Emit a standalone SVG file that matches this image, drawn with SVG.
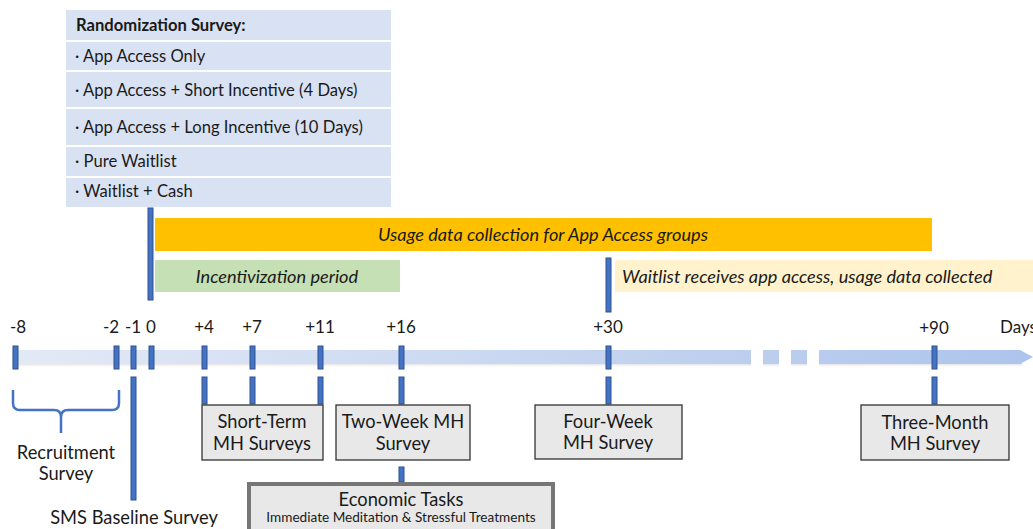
<svg xmlns="http://www.w3.org/2000/svg" width="1033" height="529" viewBox="0 0 1033 529">
<defs>
<linearGradient id="tl" x1="0" y1="0" x2="1" y2="0">
<stop offset="0" stop-color="#e3eaf6"/>
<stop offset="1" stop-color="#adc4ec"/>
</linearGradient>
<linearGradient id="sh" x1="0" y1="0" x2="0" y2="1">
<stop offset="0" stop-color="#808080" stop-opacity="0.9"/>
<stop offset="1" stop-color="#ffffff" stop-opacity="0"/>
</linearGradient>
<style>
text{font-family:Lato,"Open Sans","Liberation Sans",sans-serif;fill:#1a1a1a}
.t{font-size:17px;text-anchor:middle}
.r{font-size:16.6px}
.i{font-size:18.2px;font-style:italic}
.bx{fill:#e8e8e8;stroke:#333;stroke-width:1.3}
.tk{fill:#4472c4;stroke:#2f528f;stroke-width:1}
.rw{fill:#d9e2f3}
.lb{font-size:18.3px;text-anchor:middle}
</style>
</defs>
<rect width="1033" height="529" fill="#fff"/>

<g id="randomization">
<rect class="rw" x="66" y="10" width="325" height="30"/>
<rect class="rw" x="66" y="42" width="325" height="28"/>
<rect class="rw" x="66" y="72" width="325" height="35"/>
<rect class="rw" x="66" y="109" width="325" height="36"/>
<rect class="rw" x="66" y="147" width="325" height="29"/>
<rect class="rw" x="66" y="178" width="325" height="29"/>
<text class="r" x="76" y="31" font-weight="bold">Randomization Survey:</text>
<text class="r" x="75" y="62">· App Access Only</text>
<text class="r" x="75" y="96">· App Access + Short Incentive (4 Days)</text>
<text class="r" x="75" y="133">· App Access + Long Incentive (10 Days)</text>
<text class="r" x="75" y="167">· Pure Waitlist</text>
<text class="r" x="75" y="197">· Waitlist + Cash</text>
</g>

<g id="usage-bar">
<rect x="155" y="218" width="777" height="33" fill="#ffc000"/>
<text class="i" x="543" y="241" text-anchor="middle">Usage data collection for App Access groups</text>
</g>
<g id="incentive-bar">
<rect x="155" y="260" width="245" height="32" fill="#c5e0b4"/>
<text class="i" x="277" y="283" text-anchor="middle">Incentivization period</text>
</g>
<g id="waitlist-bar">
<rect x="615" y="260" width="418" height="32" fill="#fff2cc"/>
<text class="i" x="622" y="283">Waitlist receives app access, usage data collected</text>
</g>

<g id="timeline">
<rect x="12" y="360" width="1010" height="8" fill="url(#sh)"/>
<path d="M12,350 H1020 L1033,357 L1020,364 H12 Z" fill="url(#tl)"/>
<rect x="751" y="345" width="12" height="28" fill="#fff"/>
<rect x="779" y="345" width="12" height="28" fill="#fff"/>
<rect x="807" y="345" width="12" height="28" fill="#fff"/>
</g>

<g id="tick-labels">
<text class="t" x="18" y="333">-8</text>
<text class="t" x="111" y="333">-2</text>
<text class="t" x="133" y="333">-1</text>
<text class="t" x="151" y="333">0</text>
<text class="t" x="204" y="333">+4</text>
<text class="t" x="252" y="333">+7</text>
<text class="t" x="320" y="333">+11</text>
<text class="t" x="401" y="333">+16</text>
<text class="t" x="608" y="333">+30</text>
<text class="t" x="934" y="334">+90</text>
<text x="1000" y="333" font-size="17">Days</text>
</g>

<g id="connectors">
<rect class="tk" x="148" y="208" width="5" height="92"/>
<rect class="tk" x="606" y="258" width="5" height="54"/>
<rect class="tk" x="13" y="346" width="5" height="23"/>
<rect class="tk" x="114" y="346" width="5" height="23"/>
<rect class="tk" x="131" y="346" width="5" height="23"/>
<rect class="tk" x="149" y="346" width="5" height="23"/>
<rect class="tk" x="202" y="346" width="5" height="23"/>
<rect class="tk" x="250" y="346" width="5" height="23"/>
<rect class="tk" x="318" y="346" width="5" height="23"/>
<rect class="tk" x="399" y="346" width="5" height="23"/>
<rect class="tk" x="606" y="346" width="5" height="23"/>
<rect class="tk" x="932" y="346" width="5" height="23"/>
<rect class="tk" x="202" y="377" width="5" height="27"/>
<rect class="tk" x="250" y="377" width="5" height="27"/>
<rect class="tk" x="318" y="377" width="5" height="27"/>
<rect class="tk" x="399" y="377" width="5" height="27"/>
<rect class="tk" x="606" y="377" width="5" height="27"/>
<rect class="tk" x="932" y="377" width="5" height="27"/>
<rect class="tk" x="131" y="377" width="5" height="123"/>
<rect class="tk" x="399" y="467" width="5" height="15"/>
<path d="M13,390 V403 Q13,410 20,410 H54 Q61,410 61,417 V433 M61,417 Q61,410 68,410 H112 Q119,410 119,403 V390" fill="none" stroke="#4472c4" stroke-width="2.5"/>
</g>

<g id="recruitment">
<text class="lb" x="66" y="459" font-size="17">Recruitment</text>
<text class="lb" x="66" y="480">Survey</text>
</g>
<g id="sms-baseline">
<text class="lb" x="134" y="524">SMS Baseline Survey</text>
</g>

<g id="short-term">
<rect class="bx" x="202" y="405" width="121" height="55"/>
<text class="lb" x="262" y="428">Short-Term</text>
<text class="lb" x="262" y="450">MH Surveys</text>
</g>
<g id="two-week">
<rect class="bx" x="336" y="405" width="134" height="55"/>
<text class="lb" x="403" y="428">Two-Week MH</text>
<text class="lb" x="403" y="450">Survey</text>
</g>
<g id="four-week">
<rect class="bx" x="535" y="405" width="147" height="54"/>
<text class="lb" x="608" y="428">Four-Week</text>
<text class="lb" x="608" y="449">MH Survey</text>
</g>
<g id="three-month">
<rect class="bx" x="861" y="405" width="148" height="55"/>
<text class="lb" x="935" y="429">Three-Month</text>
<text class="lb" x="935" y="450">MH Survey</text>
</g>
<g id="economic">
<rect x="249" y="484" width="304" height="50" fill="#e8e8e8" stroke="#767676" stroke-width="4"/>
<text class="lb" x="401" y="506">Economic Tasks</text>
<text x="401" y="522" font-size="13.6" text-anchor="middle">Immediate Meditation &amp; Stressful Treatments</text>
</g>
</svg>
